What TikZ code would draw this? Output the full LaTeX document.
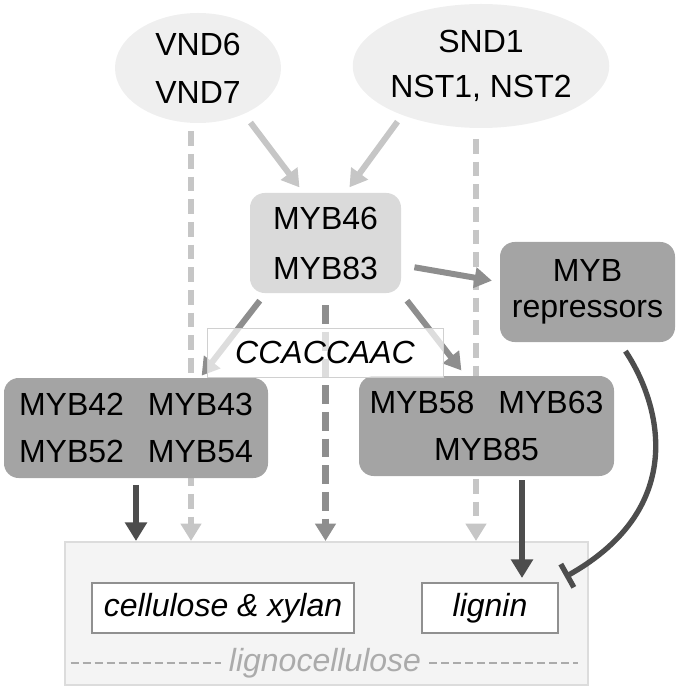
\documentclass[tikz,border=0pt]{standalone}
\usepackage{fontspec}
\setmainfont{Liberation Sans}
\usetikzlibrary{shapes.geometric,arrows.meta,backgrounds,calc}
\definecolor{bubblefill}{HTML}{EFEFEF}
\definecolor{boxlight}{HTML}{DADADA}
\definecolor{boxdark}{HTML}{A4A4A4}
\definecolor{flowlight}{HTML}{C6C6C6}
\definecolor{flowmid}{HTML}{8E8E8E}
\definecolor{flowdark}{HTML}{4D4D4D}
\definecolor{motifline}{HTML}{D0D0D0}
\definecolor{wallframe}{HTML}{DCDCDC}
\definecolor{wallfill}{HTML}{F4F4F4}
\definecolor{wallline}{HTML}{909090}
\definecolor{lcgray}{HTML}{ABABAB}
\begin{document}
\begin{tikzpicture}[x=0.75pt,y=0.75pt,yscale=-1,xscale=1,
  every node/.style={font=\fontsize{24}{36}\selectfont},
  tfbubble/.style={ellipse, fill=bubblefill, inner sep=0pt, align=center},
  mybbox/.style={rectangle, rounded corners=11pt, inner sep=0pt, align=center, minimum height=75pt},
  wallbox/.style={rectangle, draw=wallline, line width=1.5pt, fill=white, inner sep=0pt, minimum height=37.5pt, font=\fontsize{24}{36}\selectfont\itshape},
  lightflow/.style={draw=flowlight, line width=4.5pt, -{Triangle[length=13pt,width=15pt]}},
  midflow/.style={draw=flowmid, line width=4.5pt, -{Triangle[length=13pt,width=15pt]}},
  darkflow/.style={draw=flowdark, line width=5pt, -{Triangle[length=14pt,width=16pt]}},
  lightdash/.style={draw=flowlight, line width=4.5pt, dash pattern=on 11pt off 6pt, -{Triangle[length=13pt,width=15pt]}},
  middash/.style={draw=flowmid, line width=5pt, dash pattern=on 14pt off 6pt, -{Triangle[length=13pt,width=15pt]}},
  repline/.style={draw=flowdark, line width=4pt, -{Bar[width=20pt,line width=4pt]}},
  lcdash/.style={draw=lcgray, line width=1.8pt, dash pattern=on 6pt off 3pt}]
\useasboundingbox (0,0) rectangle (685,691);

%Shape: Ellipse [id:vnd]
\node[tfbubble, minimum width=124.5pt, minimum height=82.5pt, font=\fontsize{24}{36}\selectfont] (vnd) at (198,68) {VND6\\VND7};
%Shape: Ellipse [id:snd]
\node[tfbubble, minimum width=169.5pt, minimum height=93pt, font=\fontsize{24}{34}\selectfont] (snd) at (481,66) {SND1\\NST1, NST2};

%Shape: Rounded Rectangle [id:myb46]
\node[mybbox, fill=boxlight, minimum width=113.25pt, font=\fontsize{24}{37.5}\selectfont] (myb46) at (325.5,243) {MYB46\\MYB83};
%Shape: Rounded Rectangle [id:repress]
\node[mybbox, fill=boxdark, minimum width=131.25pt, font=\fontsize{24}{27}\selectfont] (repress) at (587.5,292) {MYB\\repressors};
%Shape: Rounded Rectangle [id:leftgrp]
\node[mybbox, fill=boxdark, minimum width=198pt, font=\fontsize{24}{35}\selectfont] (leftgrp) at (136,428) {MYB42\hspace{0.75em}MYB43\\MYB52\hspace{0.75em}MYB54};
%Shape: Rounded Rectangle [id:rightgrp]
\node[mybbox, fill=boxdark, minimum width=191.25pt, font=\fontsize{24}{35}\selectfont] (rightgrp) at (486.5,426) {MYB58\hspace{0.75em}MYB63\\MYB85};

% Text Node
\node[draw=motifline, line width=0.75pt, fill=white, fill opacity=0.7, text opacity=1, minimum width=177pt, minimum height=36.75pt, inner sep=0pt, font=\fontsize{24}{36}\selectfont\itshape] (motif) at (325,352.5) {CCACCAAC};

% Text Node
\node[wallbox, minimum width=196.5pt] (cellx) at (223,608) {cellulose \& xylan};
% Text Node
\node[wallbox, minimum width=102pt] (lig) at (490,608) {lignin};
% Text Node
\node[text=lcgray, font=\fontsize{24}{36}\selectfont\itshape, inner sep=6pt] (lclabel) at (325,663) {lignocellulose};

% line feet
\coordinate (vndfoot) at ($(vnd.south)+(-7,0)$);
\coordinate (sndfoot) at ($(snd.south)+(-5,0)$);
\coordinate (rightfoot) at ($(rightgrp.south)+(35.5,0)$);

\begin{scope}[on background layer]
%Shape: Rectangle [id:lignocell]
\node[draw=wallframe, fill=wallfill, line width=1.5pt, minimum width=392.25pt, minimum height=107.25pt, inner sep=0pt] (lignocell) at (326.5,613.5) {};
\draw[lcdash, shorten <=5pt] (lignocell.west |- lclabel.center) -- (lclabel.west);
\draw[lcdash, shorten >=8pt] (lclabel.east) -- (lignocell.east |- lclabel.center);

%Straight Lines
\draw[lightflow, shorten <=8pt, shorten >=5pt] (vnd.-45) -- ($(myb46.north)+(-22,0)$);
\draw[lightflow, shorten <=6pt, shorten >=5pt] (snd.-148) -- ($(myb46.north)+(20,0)$);
%Dashed Lines
\draw[lightdash, shorten <=6pt] (vndfoot) -- (vndfoot |- lignocell.north);
\draw[lightdash, shorten <=8pt] (sndfoot) -- (sndfoot |- lignocell.north);
\draw[middash, shorten <=9pt] (myb46.south) -- (myb46.south |- lignocell.north);
%Straight Lines
\draw[midflow, shorten <=7pt, shorten >=2pt] ($(myb46.south)+(-60,0)$) -- ($(leftgrp.north)+(64,0)$);
\draw[midflow, shorten <=7pt, shorten >=5pt] (myb46.south east) -- ($(rightgrp.north)+(-21,0)$);
\draw[midflow, shorten <=10pt, shorten >=6pt] ($(myb46.east)+(0,22)$) -- ($(repress.west)+(0,-10)$);
\draw[darkflow, shorten <=5pt] (leftgrp.south) -- (leftgrp.south |- lignocell.north);
\draw[darkflow, shorten <=3pt, shorten >=3pt] (rightfoot) -- (rightfoot |- lig.north);
%Curve Lines
\draw[repline, shorten <=8pt] ($(repress.south)+(32,0)$) .. controls +(40,60) and +(125,-70) .. ($(lig.north east)+(6,-5)$);
\end{scope}
\end{tikzpicture}
\end{document}
